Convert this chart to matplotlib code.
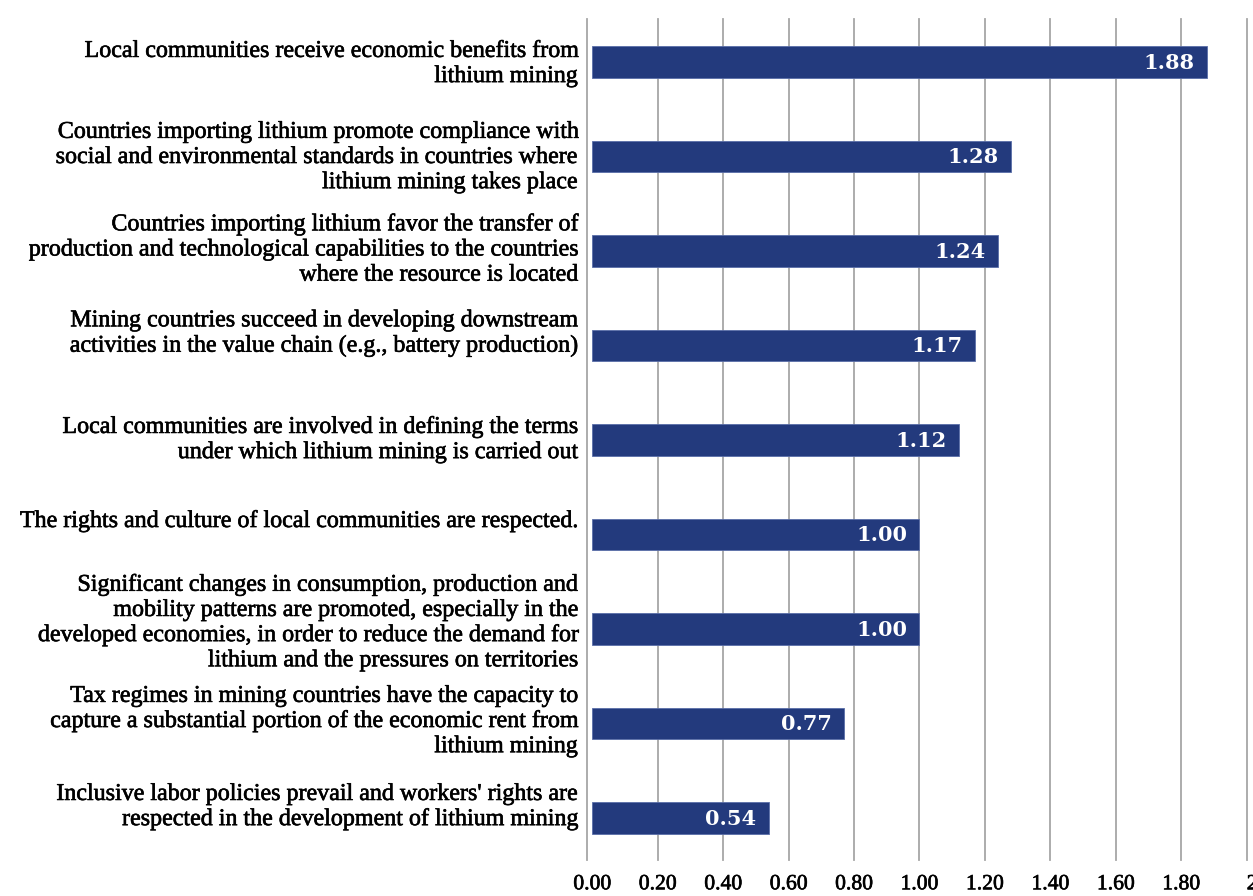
import matplotlib
matplotlib.use("Agg")
import matplotlib.pyplot as plt
import matplotlib.transforms as mtransforms
import matplotlib.patheffects as pe

categories = [
    "Local communities receive economic benefits from\nlithium mining",
    "Countries importing lithium promote compliance with\nsocial and environmental standards in countries where\nlithium mining takes place",
    "Countries importing lithium favor the transfer of\nproduction and technological capabilities to the countries\nwhere the resource is located",
    "Mining countries succeed in developing downstream\nactivities in the value chain (e.g., battery production)",
    "Local communities are involved in defining the terms\nunder which lithium mining is carried out",
    "The rights and culture of local communities are respected.",
    "Significant changes in consumption, production and\nmobility patterns are promoted, especially in the\ndeveloped economies, in order to reduce the demand for\nlithium and the pressures on territories",
    "Tax regimes in mining countries have the capacity to\ncapture a substantial portion of the economic rent from\nlithium mining",
    "Inclusive labor policies prevail and workers' rights are\nrespected in the development of lithium mining",
]
values = [1.88, 1.28, 1.24, 1.17, 1.12, 1.00, 1.00, 0.77, 0.54]
xticks = [0.0, 0.2, 0.4, 0.6, 0.8, 1.0, 1.2, 1.4, 1.6, 1.8, 2.0]
xtick_labels = ["0.00", "0.20", "0.40", "0.60", "0.80", "1.00", "1.20", "1.40", "1.60", "1.80", "2.00"]

# vertical offsets of category labels relative to bar centre (pixels, + = down)
label_offsets_px = [2, 1, -1, -12, 0, -13, -6, -2, -11]

W, H = 1253, 896
fig = plt.figure(figsize=(W / 100, H / 100), dpi=100)
ax_left, ax_right = 586.7 / W, 1246.7 / W
ax_top, ax_bot = 1 - 19 / H, 1 - 860 / H
ax = fig.add_axes([ax_left, ax_bot, ax_right - ax_left, ax_top - ax_bot])

bar_color = "#233a7d"
grid_color = "#a6a6a6"
n = len(values)
ypos = [n - 1 - i for i in range(n)]
heavier = [pe.withStroke(linewidth=0.45, foreground="black")]

ax.barh(ypos, values, height=0.33, color=bar_color, edgecolor="#5a6ea8",
        linewidth=0.6, zorder=3)

for y, v in zip(ypos, values):
    ax.annotate(f"{v:.2f}", xy=(v, y), xytext=(-9, -0.5), textcoords="offset points",
                ha="right", va="center", color="white", fontsize=15,
                fontweight="bold", family="DejaVu Serif", zorder=4)

for gx in xticks[1:]:
    ax.axvline(gx, color=grid_color, linewidth=1.3, zorder=1, clip_on=False)

ax.set_xlim(-0.017, 2.0)
ax.set_ylim(-0.444, 8.455)

for s in ["top", "right", "bottom"]:
    ax.spines[s].set_visible(False)
ax.spines["left"].set_color(grid_color)
ax.spines["left"].set_linewidth(1.3)

ax.set_yticks([])
ax.set_xticks(xticks)
ax.set_xticklabels(xtick_labels, family="Liberation Serif", fontsize=15.6)
ax.tick_params(axis="x", length=0, pad=11)
ticklabs = ax.get_xticklabels()
for lab in ticklabs:
    lab.set_clip_on(False)
    lab.set_path_effects(heavier)
ticklabs[-1].set_horizontalalignment("left")

trans = mtransforms.blended_transform_factory(ax.transAxes, ax.transData)
for y, cat, off in zip(ypos, categories, label_offsets_px):
    ax.annotate(cat, xy=(0, y), xycoords=trans,
                xytext=(-6.5, -off * 0.72), textcoords="offset points",
                ha="right", va="center", multialignment="right",
                fontsize=17.3, family="Liberation Serif", linespacing=1.26,
                color="black", annotation_clip=False, path_effects=heavier)

fig.savefig("out.png", dpi=100)
